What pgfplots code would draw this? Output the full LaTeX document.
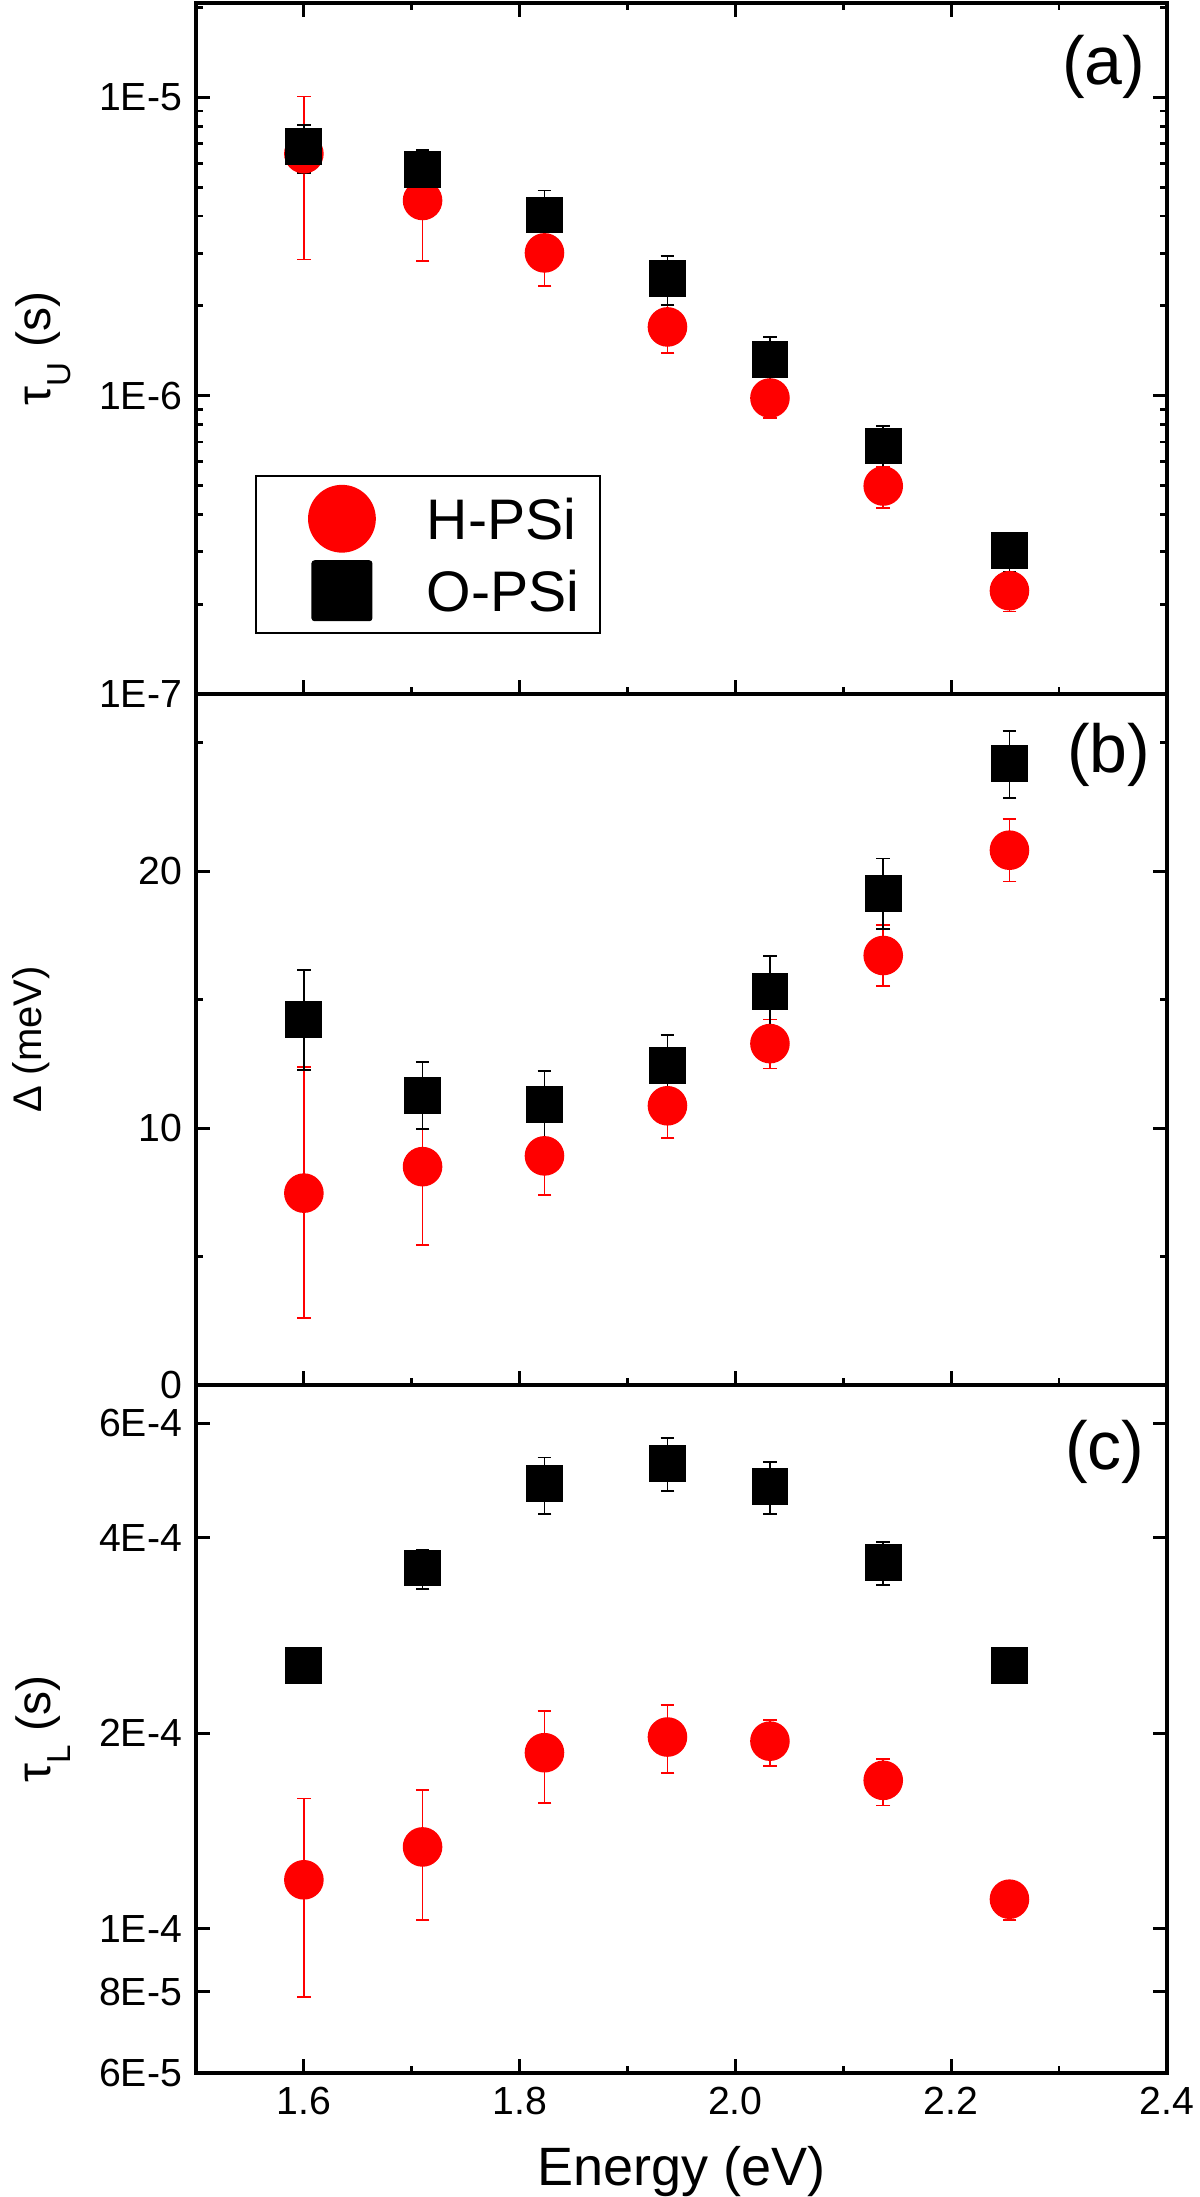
\documentclass[border=0pt]{standalone}
\usepackage{fontspec}
\setmainfont{Liberation Sans}
\usepackage{pgfplots}
\usepackage{pgfplotstable}
\pgfplotsset{compat=1.18}

\pgfplotstableread{
x y ep em
1.600 6.47e-6 3.60e-6 3.61e-6
1.710 4.51e-6 1.68e-6 1.68e-6
1.823 3.01e-6 0.68e-6 0.68e-6
1.937 1.70e-6 0.31e-6 0.31e-6
2.032 9.82e-7 1.40e-7 1.40e-7
2.137 4.98e-7 0.78e-7 0.78e-7
2.254 2.22e-7 0.33e-7 0.33e-7
}\aH
\pgfplotstableread{
x y ep em
1.600 6.84e-6 1.25e-6 1.27e-6
1.710 5.73e-6 0.92e-6 0.89e-6
1.823 4.03e-6 0.84e-6 0.75e-6
1.937 2.47e-6 0.46e-6 0.46e-6
2.032 1.32e-6 0.25e-6 0.27e-6
2.137 6.78e-7 1.15e-7 1.22e-7
2.254 3.02e-7 0.46e-7 0.46e-7
}\aO
\pgfplotstableread{
x y ep em
1.600 7.47 4.90 4.87
1.710 8.50 3.05 3.04
1.823 8.92 1.55 1.53
1.937 10.87 1.22 1.25
2.032 13.29 0.94 0.97
2.137 16.72 1.18 1.20
2.254 20.82 1.20 1.22
}\bH
\pgfplotstableread{
x y ep em
1.600 14.23 1.94 1.96
1.710 11.26 1.31 1.29
1.823 10.92 1.29 1.29
1.937 12.44 1.20 1.20
2.032 15.31 1.38 1.38
2.137 19.14 1.36 1.38
2.254 24.19 1.27 1.33
}\bO
\pgfplotstableread{
x y ep em
1.600 1.190e-4 0.397e-4 0.404e-4
1.710 1.337e-4 0.301e-4 0.305e-4
1.823 1.867e-4 0.298e-4 0.303e-4
1.937 1.974e-4 0.236e-4 0.236e-4
2.032 1.945e-4 0.149e-4 0.165e-4
2.137 1.693e-4 0.133e-4 0.144e-4
2.254 1.111e-4 0.060e-4 0.080e-4
}\cH
\pgfplotstableread{
x y ep em
1.600 2.543e-4 0.03e-4 0.03e-4
1.710 3.593e-4 0.240e-4 0.256e-4
1.823 4.847e-4 0.469e-4 0.502e-4
1.937 5.200e-4 0.500e-4 0.480e-4
2.032 4.790e-4 0.440e-4 0.436e-4
2.137 3.660e-4 0.280e-4 0.280e-4
2.254 2.543e-4 0.03e-4 0.03e-4
}\cO

\newcommand{\taulabel}[1]{\fontsize{12}{12}\selectfont τ\raisebox{-5pt}{\fontsize{8.3}{8.3}\selectfont #1}\hspace{3.6pt}(s)}

\pgfplotsset{
  panel/.style={
    scale only axis, width=242.75pt,
    xmin=1.5, xmax=2.4,
    xtick={1.6,1.8,2.0,2.2,2.4},
    minor xtick={1.5,1.7,1.9,2.1,2.3},
    tick align=inside,
    major tick length=3.5pt, minor tick length=1.8pt,
    axis line style={line width=0.8pt},
    every tick/.append style={line width=0.7pt, black},
    every minor tick/.append style={line width=0.7pt},
    tick label style={font=\fontsize{9.8}{10}\selectfont},
    label style={font=\fontsize{12}{12}\selectfont},
    every axis y label/.style={at={(axis description cs:-0.157,0.5)}, rotate=90, anchor=center},
  },
  hpsi/.style={only marks, mark=*, mark size=4.75pt, color=red, mark options={fill=red, draw=none},
    error bars/y dir=both, error bars/y explicit,
    error bars/error bar style={line width=0.45pt, red},
    error bars/error mark options={rotate=90, mark size=1.7pt, line width=0.45pt, red}},
  opsi/.style={only marks, mark=square*, mark size=4.4pt, color=black, mark options={fill=black, draw=none},
    error bars/y dir=both, error bars/y explicit,
    error bars/error bar style={line width=0.45pt, black},
    error bars/error mark options={rotate=90, mark size=1.7pt, line width=0.45pt, black}},
}

\begin{document}
\begin{tikzpicture}
\begin{axis}[panel, name=a, at={(0,0)}, anchor=north west, height=172.75pt,
  ymode=log, ymin=1e-7, ymax=2.07e-5,
  ytick={1e-7,1e-6,1e-5}, yticklabels={1E-7,1E-6,1E-5},
  minor ytick={2e-7,3e-7,4e-7,5e-7,6e-7,7e-7,8e-7,9e-7,2e-6,3e-6,4e-6,5e-6,6e-6,7e-6,8e-6,9e-6,2e-5},
  xticklabels={},
  ylabel={\taulabel{U}},
  legend style={at={(0.0608,0.0868)}, anchor=south west, draw=black, line width=0.45pt,
    inner xsep=0pt, inner ysep=1.6pt, row sep=0pt, column sep=6.75pt,
    nodes={inner sep=0pt, text depth=0pt}, cells={anchor=west},
    font=\fontsize{14.3}{14.3}\selectfont},
]
\addplot[hpsi, legend image code/.code={\path[draw=none,fill=none] (0pt,-9pt) rectangle (36pt,9pt); \fill[red] (21.5pt,0pt) circle (8.25pt);}]
  table[x=x, y=y, y error plus=ep, y error minus=em] {\aH};
\addlegendentry{H-PSi}
\addplot[opsi, legend image code/.code={\path[draw=none,fill=none] (0pt,-9pt) rectangle (36pt,9pt); \fill[black, rounded corners=0.6pt] (14.1pt,-7.4pt) rectangle (28.9pt,7.4pt);}]
  table[x=x, y=y, y error plus=ep, y error minus=em] {\aO};
\addlegendentry{O-PSi\hspace*{5.1pt}}
\node[font=\fontsize{17}{17}\selectfont] at (rel axis cs:0.935,0.907) {(a)};
\end{axis}

\begin{axis}[panel, name=b, at={(a.south west)}, anchor=north west, height=172.75pt,
  ymin=0, ymax=26.9, ytick={0,10,20}, yticklabels={0,10,20}, minor ytick={5,15,25},
  xtick pos=left, xticklabels={},
  ylabel={Δ (meV)},
  every axis y label/.style={at={(axis description cs:-0.170,0.5)}, rotate=90, anchor=center},
]
\addplot[hpsi] table[x=x, y=y, y error plus=ep, y error minus=em] {\bH};
\addplot[opsi] table[x=x, y=y, y error plus=ep, y error minus=em] {\bO};
\node[font=\fontsize{17}{17}\selectfont] at (rel axis cs:0.940,0.912) {(b)};
\end{axis}

\begin{axis}[panel, name=c, at={(b.south west)}, anchor=north west, height=172pt,
  ymode=log, ymin=6e-5, ymax=6.87e-4,
  ytick={6e-5,8e-5,1e-4,2e-4,4e-4,6e-4}, yticklabels={6E-5,8E-5,1E-4,2E-4,4E-4,6E-4},
  minor y tick num=0,
  xtick pos=left, xticklabels={1.6,1.8,2.0,2.2,2.4},
  xlabel={Energy (eV)},
  xlabel style={font=\fontsize{13.5}{14}\selectfont, at={(axis description cs:0.5,0)}, anchor=base, yshift=-28pt},
  ylabel={\taulabel{L}},
]
\addplot[hpsi] table[x=x, y=y, y error plus=ep, y error minus=em] {\cH};
\addplot[opsi] table[x=x, y=y, y error plus=ep, y error minus=em] {\cO};
\node[font=\fontsize{17}{17}\selectfont] at (rel axis cs:0.936,0.903) {(c)};
\end{axis}
\pgfresetboundingbox
\path[use as bounding box] (-49pt,0.75pt) rectangle (251pt,-548.5pt);
\end{tikzpicture}
\end{document}
